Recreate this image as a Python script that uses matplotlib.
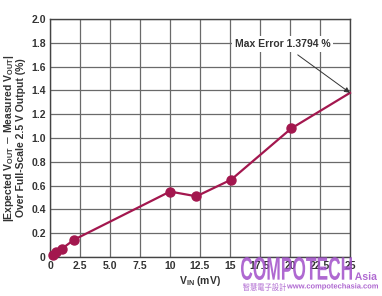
import matplotlib
matplotlib.use('Agg')
import matplotlib.pyplot as plt
from matplotlib.textpath import TextPath
from matplotlib.font_manager import FontProperties
from matplotlib.patches import PathPatch
from matplotlib.transforms import Affine2D

# ── Data ───────────────────────────────────────────────────────────────────────
VIN_MV = [0.25, 0.5, 1.0, 2.0, 10.0, 12.2, 15.1, 20.1]
ERR_PCT = [0.02, 0.04, 0.07, 0.145, 0.55, 0.51, 0.65, 1.08]
END_X, END_Y = 25.0, 1.3794

X_TICKS = [0, 2.5, 5.0, 7.5, 10, 12.5, 15, 17.5, 20, 22.5, 25]
X_LABELS = ["0", "2.5", "5.0", "7.5", "10", "12.5", "15", "17.5", "20", "22.5", "25"]
Y_TICKS = [0, 0.2, 0.4, 0.6, 0.8, 1.0, 1.2, 1.4, 1.6, 1.8, 2.0]
Y_LABELS = ["0", "0.2", "0.4", "0.6", "0.8", "1.0", "1.2", "1.4", "1.6", "1.8", "2.0"]

LINE_COLOR = "#A3174E"
TEXT_COLOR = "#333333"
WM_COLOR = "#A14FC9"

plt.rcParams['font.family'] = ['Liberation Sans', 'DejaVu Sans']

fig = plt.figure(figsize=(3.82, 2.96), dpi=100)
ax = fig.add_axes([50 / 382, 1 - 257 / 296, 300 / 382, 238 / 296])

ax.plot(VIN_MV + [END_X], ERR_PCT + [END_Y], color=LINE_COLOR, lw=1.6, zorder=3,
        clip_on=False)
ax.plot(VIN_MV, ERR_PCT, 'o', color=LINE_COLOR, ms=6.5, zorder=4, clip_on=False)

ax.set_xlim(0, 25)
ax.set_ylim(0, 2.0)
ax.set_xticks(X_TICKS)
ax.set_xticklabels(X_LABELS, fontsize=7.5, fontweight='bold', color=TEXT_COLOR)
ax.set_yticks(Y_TICKS)
ax.set_yticklabels(Y_LABELS, fontsize=7.5, fontweight='bold', color=TEXT_COLOR)
ax.tick_params(length=0, pad=3)
ax.grid(True, color="#6a6a6a", lw=0.9)
ax.set_axisbelow(True)
for s in ax.spines.values():
    s.set_color("#444444")
    s.set_linewidth(1.0)

ax.set_xlabel(r"V$_{\mathregular{IN}}$ (mV)", fontsize=7.5, fontweight='bold',
              color=TEXT_COLOR, labelpad=2)
ax.set_ylabel(r"|Expected V$_{\mathregular{OUT}}$ $-$ Measured V$_{\mathregular{OUT}}$|"
              "\nOver Full-Scale 2.5 V Output (%)",
              fontsize=7.5, fontweight='bold', color=TEXT_COLOR, labelpad=4,
              linespacing=1.0)

ax.annotate("Max Error 1.3794 %", xy=(END_X, END_Y), xytext=(19.4, 1.79),
            fontsize=7.5, fontweight='bold', color=TEXT_COLOR, ha='center', va='center',
            bbox=dict(boxstyle='square,pad=0.25', fc='white', ec='none'),
            arrowprops=dict(arrowstyle='-|>', color='#333333', lw=0.7,
                            shrinkA=4, shrinkB=0, mutation_scale=8))


# ── watermark: squeeze text paths into a pixel box ────────────────────────────
def stretched_text(s, x0, x1, y_base, height, props):
    tp = TextPath((0, 0), s, size=10, prop=props)
    ext = tp.get_extents()
    sx = (x1 - x0) / ext.width
    sy = height / ext.height
    tr = (Affine2D().translate(-ext.x0, -ext.y0).scale(sx, sy)
          .translate(x0, 296 - y_base))
    patch = PathPatch(tr.transform_path(tp), fc=WM_COLOR, ec='none', alpha=0.85,
                      transform=None)
    fig.patches.append(patch)


bold = FontProperties(family='Liberation Sans', weight='bold')
stretched_text("COMPOTECH", 241, 352, 280, 23, bold)
stretched_text("Asia", 355, 377, 280, 8, bold)
cjk = FontProperties(family='Noto Sans CJK TC')
stretched_text("智慧電子設計", 243, 286, 291, 8, cjk)
stretched_text("www.compotechasia.com", 287, 378, 290, 7, bold)

fig.savefig("out.png", dpi=100, facecolor='white')
